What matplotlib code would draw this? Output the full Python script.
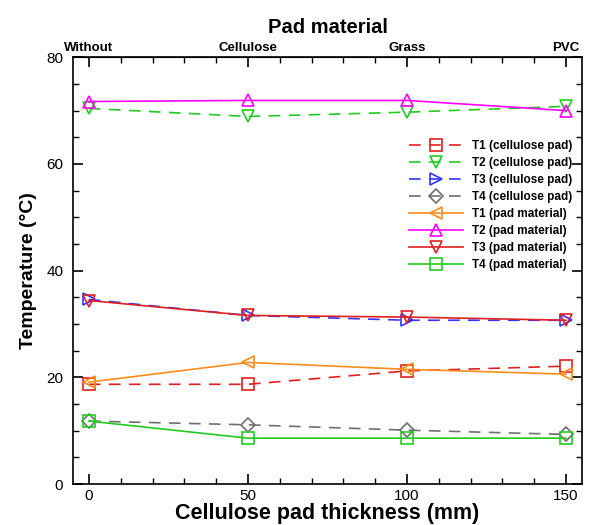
import matplotlib
matplotlib.use("Agg")
import matplotlib.pyplot as plt
from matplotlib.ticker import MultipleLocator

plt.rcParams['font.family'] = ['Liberation Sans', 'DejaVu Sans']

thickness = [0, 50, 100, 150]
materials = ["Without", "Cellulose", "Grass", "PVC"]

t1_cell = [18.7, 18.7, 21.2, 22.1]
t2_cell = [70.4, 68.9, 69.7, 70.8]
t3_cell = [34.6, 31.6, 30.7, 30.7]
t4_cell = [11.8, 11.1, 10.1, 9.3]
t1_pad = [19.1, 22.8, 21.5, 20.6]
t2_pad = [71.7, 71.9, 71.9, 70.0]
t3_pad = [34.4, 31.6, 31.3, 30.7]
t4_pad = [11.8, 8.6, 8.6, 8.6]

series = [
    ("T1 (cellulose pad)", t1_cell, '#e02020', 's', (0, (7, 5))),
    ("T2 (cellulose pad)", t2_cell, '#22cc22', 'v', (0, (7, 5))),
    ("T3 (cellulose pad)", t3_cell, '#3333ff', '>', (0, (7, 5))),
    ("T4 (cellulose pad)", t4_cell, '#707070', 'D', (0, (7, 5))),
    ("T1 (pad material)", t1_pad, '#ff8c1a', '<', '-'),
    ("T2 (pad material)", t2_pad, '#ff00ff', '^', '-'),
    ("T3 (pad material)", t3_pad, '#e02020', 'v', '-'),
    ("T4 (pad material)", t4_pad, '#22cc22', 's', '-'),
]

fig = plt.figure(figsize=(5.89, 5.25), dpi=100)
ax = fig.add_axes([0.124, 0.078, 0.864, 0.813])

for label, vals, color, marker, ls in series:
    ms = 9
    if marker == 'D':
        ms = 7.5
    elif marker == 's':
        ms = 8.5
    ax.plot(thickness, vals, color=color, linestyle=ls, linewidth=1.2,
            marker=marker, markersize=ms, fillstyle='none',
            markeredgewidth=1.2, label=label)

ax.set_xlim(-5, 155)
ax.set_ylim(0, 80)
ax.xaxis.set_major_locator(MultipleLocator(50))
ax.xaxis.set_minor_locator(MultipleLocator(10))
ax.yaxis.set_major_locator(MultipleLocator(20))
ax.yaxis.set_minor_locator(MultipleLocator(5))
ax.tick_params(which='both', direction='in', top=False, right=True, labelsize=11)
ax.tick_params(axis='y', pad=7)
ax.tick_params(which='major', length=7, width=1.2)
ax.tick_params(which='minor', length=4, width=1)
for sp in ax.spines.values():
    sp.set_linewidth(1.2)

ax.set_xlabel("Cellulose pad thickness (mm)", fontsize=15.5, fontweight='bold', labelpad=0)
ax.set_ylabel("Temperature (\u00b0C)", fontsize=14, fontweight='bold', labelpad=7)

top = ax.secondary_xaxis('top')
top.set_xticks(thickness)
top.set_xticklabels(materials, fontsize=9.5, fontweight='bold')
top.xaxis.set_minor_locator(MultipleLocator(10))
top.tick_params(which='both', direction='in', pad=2)
top.tick_params(which='major', length=7, width=1.2)
top.tick_params(which='minor', length=4, width=1)
top.set_xlabel("Pad material", fontsize=14.5, fontweight='bold', labelpad=7)

leg = ax.legend(loc='upper right', bbox_to_anchor=(1.003, 0.83), frameon=False,
                prop={'size': 8.5, 'weight': 'bold'}, handlelength=4.6,
                labelspacing=0.42, handletextpad=0.8, markerscale=1.0)

fig.savefig("out.png", dpi=100)
